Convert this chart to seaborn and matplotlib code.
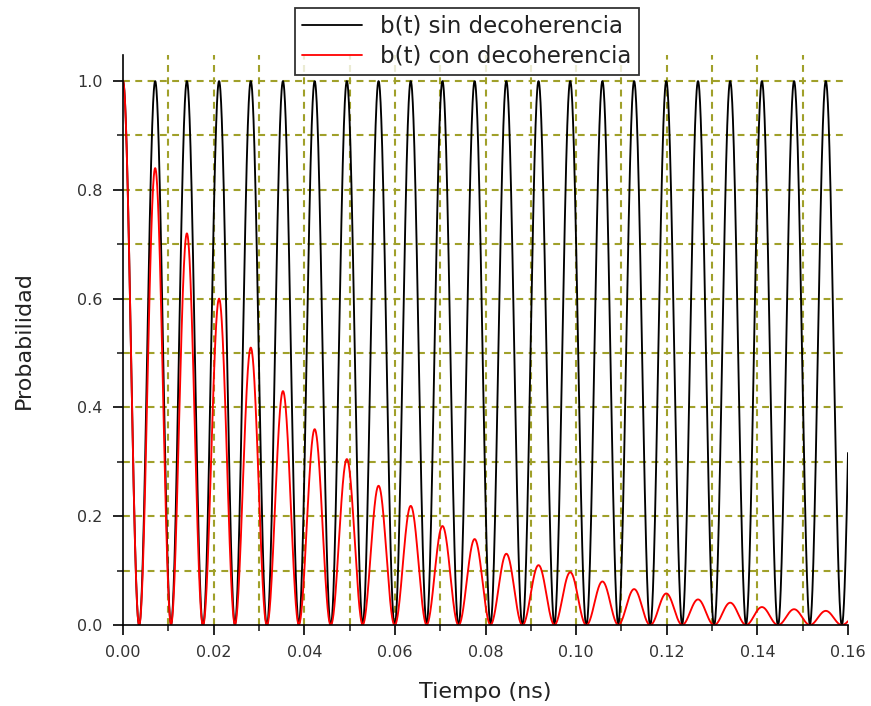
import numpy as np
import pandas as pd
import matplotlib
matplotlib.use("Agg")
import matplotlib.pyplot as plt
from matplotlib.ticker import MultipleLocator, FormatStrFormatter
import seaborn as sns

# Crest times of the oscillation (ns); the last one lies just past the axis end
peak_times = [0.0000, 0.0071, 0.0141, 0.0212, 0.0282, 0.0353, 0.0423, 0.0494,
              0.0564, 0.0635, 0.0705, 0.0776, 0.0846, 0.0917, 0.0987, 0.1058,
              0.1128, 0.1199, 0.1269, 0.1340, 0.1410, 0.1481, 0.1551, 0.1622]
# Crest heights without decoherence
peak_ideal = [1.0] * 24
# Crest heights with decoherence
peak_decoh = [1.000, 0.840, 0.720, 0.600, 0.510, 0.430, 0.360, 0.305,
              0.256, 0.219, 0.182, 0.158, 0.131, 0.110, 0.097, 0.080,
              0.066, 0.058, 0.047, 0.041, 0.033, 0.029, 0.026, 0.022]
series_names = ["b(t) sin decoherencia", "b(t) con decoherencia"]
series_colors = ["black", "red"]
x_range = (0.0, 0.16)


def lobes(times, heights, t):
    """Build the curve as cos^2 lobes around each crest, falling to zero between crests."""
    times = np.asarray(times)
    heights = np.asarray(heights)
    idx = np.abs(t[:, None] - times[None, :]).argmin(axis=1)
    period = np.gradient(times)[idx]
    return heights[idx] * np.cos(np.pi * (t - times[idx]) / period) ** 2


t = np.linspace(x_range[0], x_range[1], 3201)
df = pd.concat([
    pd.DataFrame({"t": t, "p": lobes(peak_times, peak_ideal, t), "serie": series_names[0]}),
    pd.DataFrame({"t": t, "p": lobes(peak_times, peak_decoh, t), "serie": series_names[1]}),
])

sns.set_theme(style="white")
plt.rcParams["font.family"] = ["DejaVu Sans"]

fig = plt.figure(figsize=(8.71, 7.06), dpi=100)
ax = fig.add_axes([123 / 871, 1 - 625 / 706, 725 / 871, 570 / 706])

sns.lineplot(data=df, x="t", y="p", hue="serie", palette=series_colors,
             estimator=None, sort=False, linewidth=1.35, ax=ax, legend=False)

ax.set_xlim(*x_range)
ax.set_ylim(0, 1.048)

grid_kw = dict(color="#a0a02a", linestyle=(0, (3.3, 2.6)), linewidth=1.5, zorder=0)
for gx in np.arange(0.01, 0.16, 0.01):
    ax.axvline(gx, **grid_kw)
for gy in np.arange(0.1, 1.01, 0.1):
    ax.axhline(gy, **grid_kw)

ax.xaxis.set_major_locator(MultipleLocator(0.02))
ax.xaxis.set_minor_locator(MultipleLocator(0.01))
ax.yaxis.set_major_locator(MultipleLocator(0.2))
ax.yaxis.set_minor_locator(MultipleLocator(0.1))
ax.xaxis.set_major_formatter(FormatStrFormatter("%.2f"))
ax.yaxis.set_major_formatter(FormatStrFormatter("%.1f"))
ax.tick_params(which="major", direction="out", length=7.5, width=1.2,
               labelsize=11.5, colors="black", labelcolor="#333333",
               bottom=True, left=True, pad=7)
ax.tick_params(which="minor", direction="out", length=4.5, width=1.2,
               bottom=True, left=True)

for side in ("top", "right"):
    ax.spines[side].set_visible(False)
for side in ("left", "bottom"):
    ax.spines[side].set_color("black")
    ax.spines[side].set_linewidth(1.2)

ax.set_xlabel("Tiempo (ns)", fontsize=16, color="#222222", labelpad=16)
ax.set_ylabel("Probabilidad", fontsize=16, color="#222222", labelpad=31)

handles = [plt.Line2D([], [], color=c, linewidth=1.3) for c in series_colors]
leg = fig.legend(handles, series_names, loc="upper center",
                 bbox_to_anchor=(467 / 871, 1 - 8 / 706), fontsize=16.5,
                 frameon=True, fancybox=False, edgecolor="black",
                 handlelength=2.6, handletextpad=0.8, borderpad=0.3,
                 labelspacing=0.3, borderaxespad=0)
leg.get_frame().set_linewidth(1.3)
leg.set_zorder(10)
for txt in leg.get_texts():
    txt.set_color("#222222")

fig.savefig("out.png", dpi=100, facecolor="white")
